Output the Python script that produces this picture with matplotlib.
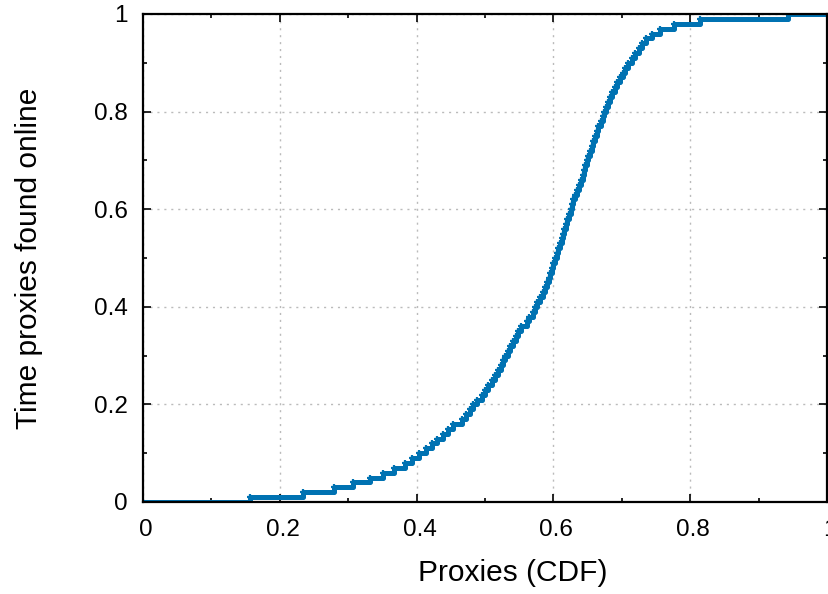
import numpy as np
import matplotlib
matplotlib.use("Agg")
import matplotlib.pyplot as plt
import matplotlib.transforms as mtransforms
from matplotlib.ticker import MultipleLocator

plt.rcParams["font.family"] = ["Liberation Sans", "DejaVu Sans"]

# x position (proxies CDF) where each step level starts; level k -> y = k/100
step_x = [
    0.000, 0.156, 0.234, 0.279, 0.307, 0.332, 0.351, 0.367, 0.383, 0.393,
    0.404, 0.414, 0.423, 0.430, 0.439, 0.446, 0.453, 0.466, 0.472, 0.478,
    0.482, 0.488, 0.496, 0.500, 0.504, 0.510, 0.515, 0.519, 0.523, 0.526,
    0.529, 0.534, 0.537, 0.541, 0.545, 0.548, 0.553, 0.561, 0.564, 0.570,
    0.573, 0.576, 0.580, 0.585, 0.588, 0.591, 0.594, 0.595, 0.598, 0.599,
    0.602, 0.605, 0.607, 0.610, 0.613, 0.614, 0.615, 0.618, 0.620, 0.623,
    0.626, 0.627, 0.629, 0.632, 0.635, 0.637, 0.640, 0.643, 0.645, 0.646,
    0.649, 0.651, 0.654, 0.656, 0.658, 0.661, 0.664, 0.665, 0.670, 0.673,
    0.674, 0.677, 0.680, 0.683, 0.686, 0.690, 0.693, 0.697, 0.702, 0.705,
    0.709, 0.715, 0.719, 0.725, 0.730, 0.735, 0.744, 0.756, 0.776, 0.814,
    0.943,
]
step_y = [k / 100 for k in range(len(step_x))]
x_end = 1.0

x_ticks = [0, 0.2, 0.4, 0.6, 0.8, 1.0]
x_labels = ["0", "0.2", "0.4", "0.6", "0.8", "1"]
y_ticks = [0, 0.2, 0.4, 0.6, 0.8, 1.0]
y_labels = ["0", "0.2", "0.4", "0.6", "0.8", "1"]

BLUE = "#0072b2"

fig = plt.figure(figsize=(8.29, 5.94), dpi=100)
ax = fig.add_axes([143 / 829, 1 - 502 / 594, 684 / 829, 488 / 594])

xs = np.array(step_x + [x_end])
ys = np.array(step_y + [step_y[-1]])
ax.plot(xs, ys, drawstyle="steps-post", color=BLUE, lw=3.6, zorder=3,
        solid_capstyle="butt")
# point markers at both ends of every step
ax.plot(xs[:-1], ys[:-1], ls="none", marker="+", ms=4.5, mew=1.6, color=BLUE, zorder=3)
ax.plot(xs[1:], ys[:-1], ls="none", marker="+", ms=4.5, mew=1.6, color=BLUE, zorder=3)

ax.set_xlim(0, 1)
ax.set_ylim(0, 1)
ax.set_xticks(x_ticks)
ax.set_xticklabels(x_labels)
ax.set_yticks(y_ticks)
ax.set_yticklabels(y_labels)
ax.xaxis.set_minor_locator(MultipleLocator(0.1))
ax.yaxis.set_minor_locator(MultipleLocator(0.1))
ax.tick_params(which="both", direction="in", top=True, right=True, width=1.2)
ax.tick_params(which="major", length=6, labelsize=17.5, pad=12)
ax.tick_params(which="minor", length=3)
ax.tick_params(axis="y", which="major", pad=11)

shift = mtransforms.ScaledTranslation(3 / 100, 0, fig.dpi_scale_trans)
for lab in ax.get_xticklabels():
    lab.set_transform(lab.get_transform() + shift)

ax.grid(True, which="major", color="#bbbbbb", lw=1.0, ls=(0, (1.5, 3.5)))
ax.set_axisbelow(True)
for sp in ax.spines.values():
    sp.set_linewidth(1.6)
    sp.set_zorder(4)

ax.set_xlabel("Proxies (CDF)", fontsize=21.5)
ax.set_ylabel("Time proxies found online", fontsize=21.5)
ax.xaxis.set_label_coords((513 - 143) / 684, -(559 - 502) / 488)
ax.yaxis.set_label_coords(-(143 - 43) / 684, 0.5)

fig.savefig("out.png", dpi=100)
